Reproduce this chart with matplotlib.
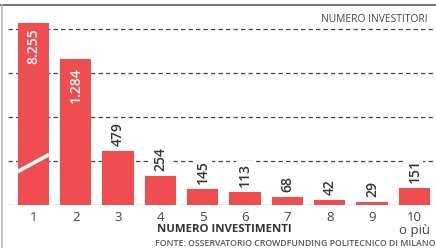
import matplotlib.pyplot as plt
from matplotlib.lines import Line2D

plt.rcParams['font.family'] = ['Open Sans', 'DejaVu Sans']

# dati: numero di investitori per numero di investimenti
categories = ["1", "2", "3", "4", "5", "6", "7", "8", "9", "10"]
values = [8255, 1284, 479, 254, 145, 113, 68, 42, 29, 151]
value_labels = ["8.255", "1.284", "479", "254", "145", "113", "68", "42", "29", "151"]
cap = 1604          # altezza disegnata per la barra fuori scala (asse interrotto)
grid_levels = [388, 776, 1164, 1552]

RED = "#EF4D50"
DARK = "#333333"

fig = plt.figure(figsize=(4.36, 2.48), dpi=100)
ax = fig.add_axes([8 / 436, 43 / 248, 428 / 436, 200 / 248])

x = list(range(1, len(values) + 1))
heights = [min(v, cap) for v in values]
bars = ax.bar(x, heights, width=0.74, color=RED, zorder=3)

ax.set_xlim(0.398, 10.51)
ax.set_ylim(0, 1762)

# griglia tratteggiata
for g in [0] + grid_levels:
    ax.axhline(g, color="#444444", lw=0.9, ls=(0, (3.5, 2.5)), zorder=1)

# segno di interruzione sulla prima barra
ax.plot([0.63, 1.37], [295, 445], color="white", lw=2.6,
        solid_capstyle="butt", zorder=4)

# etichette dei valori
for xi, h, v, lab in zip(x, heights, values, value_labels):
    if v > 1000:
        ax.annotate(lab, (xi, h), xytext=(0, -4 if v > cap else -6),
                    textcoords="offset points", rotation=90, ha="center",
                    va="top", color="white", fontsize=10, fontweight="semibold")
    else:
        ax.annotate(lab, (xi, h), xytext=(0, 3.5), textcoords="offset points",
                    rotation=90, ha="center", va="bottom", color=DARK,
                    fontsize=10, fontweight="semibold", zorder=5,
                    bbox=dict(boxstyle="square,pad=0.15", fc="white", ec="none"))

ax.set_xticks(x)
ax.set_xticklabels(categories, fontsize=9.5, color="#444444")
ax.tick_params(axis="x", length=0, pad=4)
ax.set_yticks([])
for s in ax.spines.values():
    s.set_visible(False)

ax.annotate("o più", (10, 0), xytext=(0, -14), textcoords="offset points",
            ha="center", va="top", fontsize=9.5, color="#444444")

fig.text(224 / 436, 1 - 229.5 / 248, "NUMERO INVESTIMENTI", ha="center",
         va="center", fontsize=8.2, fontweight="bold", color=DARK)
fig.text(435 / 436, 1 - 243.5 / 248,
         "FONTE: OSSERVATORIO CROWDFUNDING POLITECNICO DI MILANO",
         ha="right", va="center", fontsize=6.3, fontweight="semibold",
         color="#555555")
fig.text(428 / 436, 1 - 19.5 / 248, "NUMERO INVESTITORI", ha="right",
         va="center", fontsize=7.4, color="#444444")

# cornice grigia in alto e a sinistra
fig.add_artist(Line2D([0, 1], [1 - 5 / 248] * 2, color="#777777", lw=1.5))
fig.add_artist(Line2D([1.5 / 436] * 2, [0, 1 - 5 / 248], color="#bbbbbb", lw=1.2))

fig.savefig("out.png", dpi=100)
